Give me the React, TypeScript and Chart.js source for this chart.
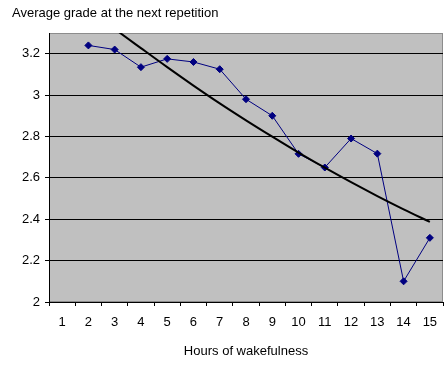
import React, { useEffect, useRef } from "react";
import { Chart, registerables } from "chart.js";

Chart.register(...registerables);

const chartTitle = "Average grade at the next repetition";
const xAxisTitle = "Hours of wakefulness";
const hours = ["1", "2", "3", "4", "5", "6", "7", "8", "9", "10", "11", "12", "13", "14", "15"];
const averageGrade = [null, 3.24, 3.22, 3.135, 3.175, 3.16, 3.125, 2.98, 2.9, 2.716, 2.65, 2.79, 2.717, 2.1, 2.31];
const trendGrade = [3.52, 3.42, 3.32, 3.227, 3.135, 3.046, 2.96, 2.878, 2.799, 2.722, 2.649, 2.579, 2.512, 2.448, 2.387];
const yMin = 2;
const yMax = 3.3;
const yStep = 0.2;

const FONT = '"Liberation Sans", Arial, sans-serif';

const plotBackground = {
  id: "plotBackground",
  beforeDraw(chart: any) {
    const { ctx, chartArea } = chart;
    ctx.save();
    ctx.fillStyle = "#c0c0c0";
    ctx.fillRect(chartArea.left, chartArea.top, chartArea.right - chartArea.left, chartArea.bottom - chartArea.top);
    ctx.strokeStyle = "#8c8c8c";
    ctx.lineWidth = 1;
    ctx.strokeRect(chartArea.left + 0.5, chartArea.top + 0.5, chartArea.right - chartArea.left - 1, chartArea.bottom - chartArea.top - 1);
    ctx.restore();
  },
};

const titlePlugin = {
  id: "leftTitle",
  afterDraw(chart: any) {
    const { ctx } = chart;
    ctx.save();
    ctx.font = `13px ${FONT}`;
    ctx.fillStyle = "#000";
    ctx.textAlign = "left";
    ctx.textBaseline = "alphabetic";
    ctx.fillText(chartTitle, 12, 17);
    ctx.restore();
  },
};

export default function App() {
  const ref = useRef<HTMLCanvasElement>(null);
  useEffect(() => {
    if (!ref.current) return;
    const chart = new Chart(ref.current, {
      type: "line",
      data: {
        labels: hours,
        datasets: [
          {
            label: "Trend",
            data: trendGrade,
            borderColor: "#000000",
            borderWidth: 2,
            pointRadius: 0,
            fill: false,
            cubicInterpolationMode: "monotone",
            clip: 0,
            order: 0,
          } as any,
          {
            label: "Average grade",
            data: averageGrade,
            borderColor: "#000080",
            backgroundColor: "#000080",
            borderWidth: 1,
            pointStyle: "rectRot",
            pointRadius: 3.5,
            pointBackgroundColor: "#000080",
            pointBorderColor: "#000080",
            fill: false,
            tension: 0,
            spanGaps: false,
            order: 1,
          } as any,
        ],
      },
      options: {
        responsive: false,
        animation: false,
        devicePixelRatio: 1,
        layout: { padding: { top: 33, right: 4, bottom: 0, left: 0 } },
        plugins: {
          legend: { display: false },
          tooltip: { enabled: false },
          title: { display: false },
        },
        scales: {
          x: {
            type: "category",
            offset: true,
            grid: {
              display: true,
              drawOnChartArea: false,
              drawTicks: true,
              tickLength: 4,
              tickColor: "#000",
              offset: true,
            },
            border: { display: true, color: "#000", width: 1 },
            ticks: {
              color: "#000",
              font: { family: FONT, size: 13 },
              padding: 9,
              maxRotation: 0,
              autoSkip: false,
            },
            title: {
              display: true,
              text: xAxisTitle,
              color: "#000",
              font: { family: FONT, size: 13 },
              padding: { top: 0, bottom: 12 },
            },
            afterFit(scale: any) {
              scale.height = 69;
            },
          },
          y: {
            type: "linear",
            min: yMin,
            max: yMax,
            grid: {
              color: "#000",
              lineWidth: 1,
              drawTicks: true,
              tickLength: 4,
              tickColor: "#000",
            },
            border: { display: true, color: "#000", width: 1 },
            ticks: {
              stepSize: yStep,
              includeBounds: false,
              color: "#000",
              font: { family: FONT, size: 13 },
              padding: 5,
              callback: (v: any) => String(Number(Number(v).toFixed(1))),
            },
            afterFit(scale: any) {
              scale.width = 49;
            },
          },
        },
      },
      plugins: [plotBackground, titlePlugin],
    });
    return () => chart.destroy();
  }, []);
  return (
    <div style={{ position: "absolute", left: 0, top: 0, width: 448, height: 371, background: "#fff" }}>
      <canvas ref={ref} width={448} height={371} style={{ display: "block", width: 448, height: 371 }} />
    </div>
  );
}
